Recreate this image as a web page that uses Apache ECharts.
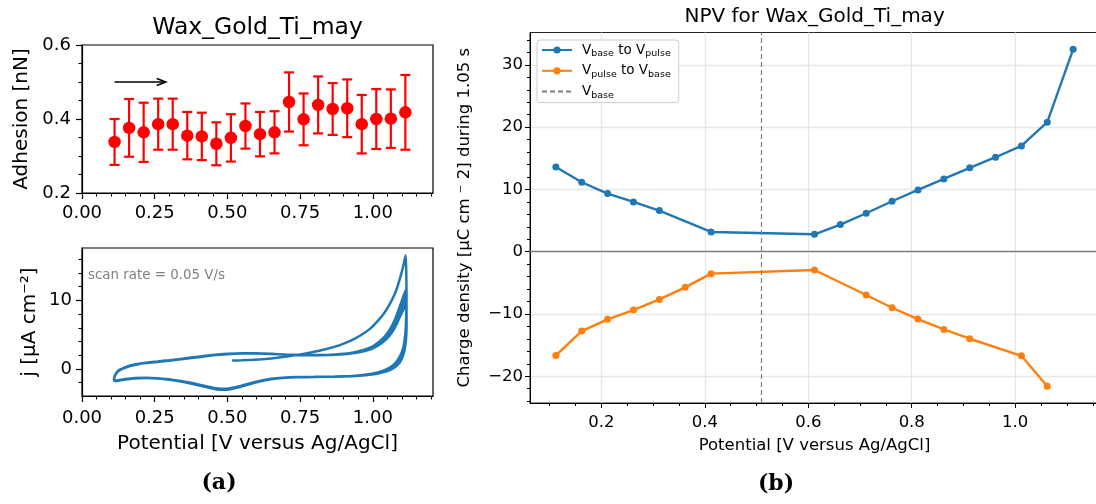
<!DOCTYPE html>
<html><head><meta charset="utf-8">
<script src="https://cdn.jsdelivr.net/npm/echarts@6/dist/echarts.min.js"></script>
<style>html,body{margin:0;padding:0;background:#fff}#c{width:1096px;height:504px}</style>
</head><body><div id="c"></div>
<script>
// ---------------- data ----------------
const adhX = [0.112,0.162,0.212,0.262,0.312,0.362,0.412,0.462,0.512,0.562,0.612,0.662,0.712,0.762,0.812,0.862,0.912,0.962,1.012,1.062,1.112];
const adhMean = [0.338,0.376,0.364,0.386,0.386,0.355,0.353,0.333,0.349,0.381,0.359,0.364,0.446,0.399,0.438,0.427,0.429,0.386,0.400,0.401,0.418];
const adhErr = [0.062,0.078,0.080,0.069,0.069,0.064,0.064,0.058,0.064,0.061,0.060,0.057,0.080,0.070,0.077,0.070,0.078,0.079,0.081,0.079,0.101];
const arrowFrom = [0.112, 0.5];
const arrowTo = [0.288, 0.5];

const cvScan1 = [[0.516,1.22],[0.55,1.25],[0.59,1.33],[0.63,1.45],[0.67,1.62],[0.71,1.85],[0.75,2.12],[0.79,2.43],[0.83,2.8],[0.87,3.25],[0.90,3.7],[0.93,4.25],[0.96,4.95],[0.99,5.85],[1.015,6.9],[1.04,8.2],[1.06,9.6],[1.078,11.2],[1.092,13.0],[1.104,14.9],[1.113,16.6],
[1.115,14.2],[1.116,11.0],[1.115,7.8],[1.112,5.2],[1.105,3.2],[1.093,1.8],[1.075,0.75],[1.05,0.0],[1.02,-0.48],[0.98,-0.82],[0.93,-1.02],[0.87,-1.12],[0.80,-1.17],[0.74,-1.2],[0.69,-1.28],[0.65,-1.45],[0.61,-1.75],[0.57,-2.18],[0.535,-2.6],[0.505,-2.85],[0.48,-2.9],[0.455,-2.78],[0.43,-2.55],[0.40,-2.25],[0.37,-1.98],[0.34,-1.75],[0.30,-1.52],[0.26,-1.35],[0.22,-1.27],[0.18,-1.33],[0.15,-1.48],[0.125,-1.65],[0.112,-1.72]];
const cvScan2 = [[0.110,-1.5],[0.113,-1.05],[0.12,-0.55],[0.13,-0.2],[0.145,0.12],[0.165,0.42],[0.19,0.66],[0.22,0.85],[0.26,1.02],[0.30,1.2],[0.35,1.45],[0.40,1.72],[0.45,1.98],[0.50,2.16],[0.55,2.26],[0.60,2.27],[0.65,2.2],[0.70,2.1],[0.75,2.04],[0.80,2.03],[0.85,2.07],[0.89,2.17],[0.93,2.38],[0.965,2.72],[0.995,3.2],[1.02,3.9],[1.043,4.85],[1.062,6.0],[1.078,7.4],[1.092,9.0],[1.105,10.6],[1.114,11.6],
[1.116,9.6],[1.116,7.2],[1.114,5.0],[1.109,3.2],[1.1,1.9],[1.087,0.95],[1.068,0.25],[1.045,-0.25],[1.015,-0.6],[0.975,-0.86],[0.93,-1.02],[0.87,-1.1],[0.80,-1.15],[0.74,-1.18],[0.69,-1.27],[0.65,-1.44],[0.61,-1.76],[0.57,-2.2],[0.535,-2.62],[0.505,-2.9],[0.48,-2.95],[0.455,-2.83],[0.43,-2.6],[0.40,-2.3],[0.37,-2.02],[0.34,-1.78],[0.30,-1.55],[0.26,-1.37],[0.22,-1.29],[0.18,-1.35],[0.15,-1.5],[0.125,-1.67],[0.112,-1.74]];
const cvScan3 = [[0.110,-1.45],[0.113,-1.0],[0.12,-0.5],[0.13,-0.15],[0.145,0.16],[0.165,0.46],[0.19,0.7],[0.22,0.88],[0.26,1.05],[0.30,1.23],[0.35,1.48],[0.40,1.75],[0.45,2.0],[0.50,2.18],[0.55,2.28],[0.60,2.28],[0.65,2.2],[0.70,2.1],[0.75,2.03],[0.80,2.01],[0.85,2.05],[0.89,2.14],[0.93,2.33],[0.965,2.64],[0.995,3.08],[1.02,3.72],[1.043,4.6],[1.062,5.7],[1.078,7.0],[1.092,8.5],[1.105,9.9],[1.114,10.8],
[1.116,9.0],[1.116,6.8],[1.114,4.7],[1.109,3.0],[1.1,1.75],[1.087,0.85],[1.068,0.18],[1.045,-0.3],[1.015,-0.64],[0.975,-0.88],[0.93,-1.03],[0.87,-1.11],[0.80,-1.16],[0.74,-1.2],[0.69,-1.3],[0.65,-1.48],[0.61,-1.8],[0.57,-2.24],[0.535,-2.66],[0.505,-2.95],[0.48,-3.0],[0.455,-2.88],[0.43,-2.64],[0.40,-2.34],[0.37,-2.05],[0.34,-1.8],[0.30,-1.56],[0.26,-1.38],[0.22,-1.3],[0.18,-1.36],[0.15,-1.52],[0.125,-1.69],[0.112,-1.76]];
const cvScan4 = [[0.110,-1.45],[0.113,-0.98],[0.12,-0.48],[0.13,-0.12],[0.145,0.18],[0.165,0.48],[0.19,0.72],[0.22,0.9],[0.26,1.07],[0.30,1.25],[0.35,1.5],[0.40,1.77],[0.45,2.02],[0.50,2.2],[0.55,2.29],[0.60,2.28],[0.65,2.19],[0.70,2.09],[0.75,2.02],[0.80,2.0],[0.85,2.03],[0.89,2.12],[0.93,2.3],[0.965,2.58],[0.995,2.98],[1.02,3.56],[1.043,4.38],[1.062,5.4],[1.078,6.6],[1.092,8.0],[1.105,9.2],[1.114,10.0],
[1.116,8.4],[1.116,6.4],[1.114,4.5],[1.109,2.85],[1.1,1.62],[1.087,0.75],[1.068,0.1],[1.045,-0.36],[1.015,-0.68],[0.975,-0.9],[0.93,-1.04],[0.87,-1.12],[0.80,-1.17],[0.74,-1.21],[0.69,-1.32],[0.65,-1.5],[0.61,-1.83],[0.57,-2.27],[0.535,-2.7],[0.505,-2.98],[0.48,-3.03],[0.455,-2.9],[0.43,-2.66],[0.40,-2.36],[0.37,-2.07],[0.34,-1.82],[0.30,-1.57],[0.26,-1.39],[0.22,-1.31],[0.18,-1.37],[0.15,-1.53],[0.125,-1.7],[0.112,-1.77]];
const cvScan5 = [[0.110,-1.45],[0.113,-0.96],[0.12,-0.46],[0.13,-0.1],[0.145,0.2],[0.165,0.5],[0.19,0.74],[0.22,0.92],[0.26,1.09],[0.30,1.27],[0.35,1.52],[0.40,1.79],[0.45,2.04],[0.50,2.21],[0.55,2.3],[0.60,2.28],[0.65,2.18],[0.70,2.08],[0.75,2.01],[0.80,1.99],[0.85,2.02],[0.89,2.1],[0.93,2.27],[0.965,2.53],[0.995,2.9],[1.02,3.45],[1.043,4.2],[1.062,5.1],[1.078,6.2],[1.092,7.5],[1.105,8.6],[1.114,9.2],
[1.116,7.8],[1.116,6.0],[1.114,4.2],[1.109,2.7],[1.1,1.5],[1.087,0.65],[1.068,0.03],[1.045,-0.4],[1.015,-0.7],[0.975,-0.92],[0.93,-1.05],[0.87,-1.13],[0.80,-1.18],[0.74,-1.22],[0.69,-1.33],[0.65,-1.52],[0.61,-1.85],[0.57,-2.3],[0.535,-2.72],[0.505,-3.0],[0.48,-3.05],[0.455,-2.92],[0.43,-2.68],[0.40,-2.38],[0.37,-2.08],[0.34,-1.83],[0.30,-1.58],[0.26,-1.4],[0.22,-1.32],[0.18,-1.38],[0.15,-1.54],[0.125,-1.71],[0.112,-1.78]];

const npvX1 = [0.112,0.162,0.212,0.262,0.312,0.412,0.612,0.662,0.712,0.762,0.812,0.862,0.912,0.962,1.012,1.062,1.112];
const npvBaseToPulse = [13.6,11.15,9.33,7.99,6.6,3.17,2.79,4.35,6.17,8.1,9.92,11.69,13.46,15.17,16.99,20.8,32.5];
const npvX2 = [0.112,0.162,0.212,0.262,0.312,0.362,0.412,0.612,0.712,0.762,0.812,0.862,0.912,1.012,1.062];
const npvPulseToBase = [-16.66,-12.75,-10.87,-9.37,-7.66,-5.73,-3.53,-2.94,-6.96,-9.0,-10.82,-12.48,-13.98,-16.72,-21.6];
const vBase = 0.512;

// tick values
const leftXTicks = [0, 0.25, 0.5, 0.75, 1.0];
const leftXMinor = [0.05,0.1,0.15,0.2,0.3,0.35,0.4,0.45,0.55,0.6,0.65,0.7,0.8,0.85,0.9,0.95,1.05,1.1,1.15,1.2];
const adhYTicks = [0.2, 0.4, 0.6];
const adhYMinor = [0.25,0.3,0.35,0.45,0.5,0.55];
const cvYTicks = [0, 10];
const cvYMinor = [-2,2,4,6,8,12,14,16];
const npvXTicks = [0.2, 0.4, 0.6, 0.8, 1.0];
const npvXMinor = [0.1,0.15,0.25,0.3,0.35,0.45,0.5,0.55,0.65,0.7,0.75,0.85,0.9,0.95,1.05,1.1,1.15];
const npvYTicks = [-20,-10,0,10,20,30];
const npvYMinor = [-24,-22,-18,-16,-14,-12,-8,-6,-4,-2,2,4,6,8,12,14,16,18,22,24,26,28,32,34];

// ---------------- chart ----------------
const FONT = 'DejaVu Sans';
const BLUE = '#1f77b4', ORANGE = '#ff7f0e';
const chart = echarts.init(document.getElementById('c'), null, {renderer: 'canvas'});

function majorAxis(o) {
  const a = {
    type: 'value', gridIndex: o.grid, min: o.min, max: o.max, position: o.pos,
    axisLine: {show: true, onZero: false, lineStyle: {color: '#000', width: o.lw || 1.2}},
    axisTick: {show: true, inside: false, length: o.tl, customValues: o.ticks, lineStyle: {color: '#000', width: o.lw || 1.2}},
    axisLabel: {show: true, customValues: o.ticks, formatter: o.fmt, fontSize: o.fs, color: '#000', fontFamily: FONT, margin: o.margin},
    splitLine: o.split ? {show: true, lineStyle: {color: '#e6e6e6', width: 1.3}} : {show: false},
    minorTick: {show: false}
  };
  if (o.name) {
    a.name = o.name; a.nameLocation = 'middle'; a.nameGap = o.nameGap;
    a.nameTextStyle = {fontSize: o.nfs, color: '#000', fontFamily: FONT};
  }
  return a;
}
function minorAxis(o) {
  return {
    type: 'value', gridIndex: o.grid, min: o.min, max: o.max, position: o.pos,
    axisLine: {show: false, onZero: false},
    axisTick: {show: true, inside: false, length: o.tl, customValues: o.ticks, lineStyle: {color: '#000', width: 1}},
    axisLabel: {show: false},
    splitLine: {show: false}
  };
}

const legendNames = {
  b2p: '{f|V}{s|base}{n| to V}{s|pulse}',
  p2b: '{f|V}{s|pulse}{n| to V}{s|base}',
  vb: '{f|V}{s|base}'
};

const option = {
  animation: false,
  backgroundColor: '#fff',
  grid: [
    {left: 82, top: 45, width: 351, height: 148, show: true, borderColor: '#000', borderWidth: 1.2, outerBoundsMode: 'none'},
    {left: 82, top: 248, width: 351, height: 148, show: true, borderColor: '#000', borderWidth: 1.2, outerBoundsMode: 'none'},
    {left: 530, top: 32.5, width: 569, height: 370.5, show: true, borderColor: '#222', borderWidth: 1, outerBoundsMode: 'none'}
  ],
  xAxis: [
    majorAxis({grid: 0, min: 0, max: 1.207, pos: 'bottom', tl: 6, ticks: leftXTicks, fmt: v => v.toFixed(2), fs: 18, margin: 11}),
    minorAxis({grid: 0, min: 0, max: 1.207, pos: 'bottom', tl: 3.5, ticks: leftXMinor}),
    majorAxis({grid: 1, min: 0, max: 1.207, pos: 'bottom', tl: 6, ticks: leftXTicks, fmt: v => v.toFixed(2), fs: 18, margin: 13,
      name: 'Potential [V versus Ag/AgCl]', nameGap: 38, nfs: 20}),
    minorAxis({grid: 1, min: 0, max: 1.207, pos: 'bottom', tl: 3.5, ticks: leftXMinor}),
    majorAxis({grid: 2, min: 0.062, max: 1.162, pos: 'bottom', tl: 5, lw: 1, ticks: npvXTicks, fmt: v => v.toFixed(1), fs: 16.5, margin: 11, split: true,
      name: 'Potential [V versus Ag/AgCl]', nameGap: 34, nfs: 16.5}),
    minorAxis({grid: 2, min: 0.062, max: 1.162, pos: 'bottom', tl: 3, ticks: npvXMinor})
  ],
  yAxis: [
    majorAxis({grid: 0, min: 0.2, max: 0.6, pos: 'left', tl: 6, ticks: adhYTicks, fmt: v => v.toFixed(1), fs: 18, margin: 11,
      name: 'Adhesion [nN]', nameGap: 50, nfs: 20}),
    minorAxis({grid: 0, min: 0.2, max: 0.6, pos: 'left', tl: 3.5, ticks: adhYMinor}),
    majorAxis({grid: 1, min: -3.95, max: 17.65, pos: 'left', tl: 6, ticks: cvYTicks, fmt: v => String(v), fs: 18, margin: 10,
      name: 'j [μA cm⁻²]', nameGap: 42, nfs: 20}),
    minorAxis({grid: 1, min: -3.95, max: 17.65, pos: 'left', tl: 3.5, ticks: cvYMinor}),
    majorAxis({grid: 2, min: -24.3, max: 35.2, pos: 'left', tl: 5, lw: 1, ticks: npvYTicks, fmt: v => v < 0 ? '\u2212' + Math.abs(v) : String(v), fs: 16.5, margin: 7, split: true,
      name: 'Charge density [μC cm \u207B 2] during 1.05 s', nameGap: 57, nfs: 16.5}),
    minorAxis({grid: 2, min: -24.3, max: 35.2, pos: 'left', tl: 3, ticks: npvYMinor})
  ],
  legend: {
    left: 537, top: 40, orient: 'vertical', selectedMode: false,
    padding: [3, 8, 2, 4], itemGap: 4.8, itemWidth: 30, itemHeight: 9,
    backgroundColor: '#fff', borderColor: '#cccccc', borderWidth: 1, borderRadius: 3,
    data: [{name: 'b2p'}, {name: 'p2b'}, {name: 'vb', itemStyle: {opacity: 0}}],
    formatter: name => legendNames[name],
    textStyle: {
      fontFamily: FONT, fontSize: 13.5, color: '#000',
      rich: {
        f: {fontFamily: FONT, fontSize: 13.5, lineHeight: 18, color: '#000', padding: [0, 0, 0, 5]},
        n: {fontFamily: FONT, fontSize: 13.5, lineHeight: 18, color: '#000'},
        s: {fontFamily: FONT, fontSize: 9.5, lineHeight: 10, color: '#000', verticalAlign: 'bottom'}
      }
    }
  },
  graphic: [
    {type: 'text', x: 257.5, y: 27.5, silent: true, style: {text: 'Wax_Gold_Ti_may', fontSize: 23.5, fontFamily: FONT, fill: '#000', align: 'center', verticalAlign: 'middle'}},
    {type: 'text', x: 814.6, y: 16.3, silent: true, style: {text: 'NPV for Wax_Gold_Ti_may', fontSize: 20, fontFamily: FONT, fill: '#000', align: 'center', verticalAlign: 'middle'}},
    {type: 'text', x: 88, y: 275.7, silent: true, style: {text: 'scan rate = 0.05 V/s', fontSize: 13.4, fontFamily: FONT, fill: '#808080', align: 'left', verticalAlign: 'middle'}},
    {type: 'text', x: 219, y: 483.5, silent: true, style: {text: '(a)', fontSize: 22, fontWeight: 'bold', fontFamily: 'DejaVu Serif', fill: '#000', align: 'center', verticalAlign: 'middle'}},
    {type: 'text', x: 776, y: 484, silent: true, style: {text: '(b)', fontSize: 22, fontWeight: 'bold', fontFamily: 'DejaVu Serif', fill: '#000', align: 'center', verticalAlign: 'middle'}}
  ],
  series: [
    {
      type: 'custom', name: 'err', xAxisIndex: 0, yAxisIndex: 0, z: 3,
      encode: {x: 0, y: [1, 2]},
      data: adhX.map((x, i) => [x, adhMean[i] - adhErr[i], adhMean[i] + adhErr[i]]),
      renderItem: function (params, api) {
        const x = api.value(0);
        const lo = api.coord([x, api.value(1)]);
        const hi = api.coord([x, api.value(2)]);
        const cap = 5;
        const st = {stroke: '#ff0000', lineWidth: 2.2};
        return {type: 'group', children: [
          {type: 'line', shape: {x1: lo[0], y1: lo[1], x2: hi[0], y2: hi[1]}, style: st},
          {type: 'line', shape: {x1: hi[0] - cap, y1: hi[1], x2: hi[0] + cap, y2: hi[1]}, style: st},
          {type: 'line', shape: {x1: lo[0] - cap, y1: lo[1], x2: lo[0] + cap, y2: lo[1]}, style: st}
        ]};
      }
    },
    {
      type: 'scatter', name: 'adh', xAxisIndex: 0, yAxisIndex: 0, z: 4,
      symbol: 'circle', symbolSize: 12.5, itemStyle: {color: '#ff0000', opacity: 1},
      data: adhX.map((x, i) => [x, adhMean[i]])
    },
    {
      type: 'custom', name: 'arrow', xAxisIndex: 0, yAxisIndex: 0, z: 5,
      encode: {x: [0, 2], y: [1, 3]},
      data: [[arrowFrom[0], arrowFrom[1], arrowTo[0], arrowTo[1]]],
      renderItem: function (params, api) {
        const a = api.coord([api.value(0), api.value(1)]);
        const b = api.coord([api.value(2), api.value(3)]);
        const st = {stroke: '#000', lineWidth: 1.6};
        return {type: 'group', children: [
          {type: 'line', shape: {x1: a[0], y1: a[1], x2: b[0], y2: b[1]}, style: st},
          {type: 'polyline', shape: {points: [[b[0] - 9, b[1] - 3.6], [b[0], b[1]], [b[0] - 9, b[1] + 3.6]]}, style: {stroke: '#000', lineWidth: 1.6, fill: null}}
        ]};
      }
    },
    {
      type: 'line', name: 'cv', xAxisIndex: 2, yAxisIndex: 2,
      data: [].concat(cvScan1, cvScan2, cvScan3, cvScan4, cvScan5),
      showSymbol: false, symbol: 'none', smooth: 0.15,
      lineStyle: {color: BLUE, width: 2.5}, itemStyle: {color: BLUE}
    },
    {
      type: 'line', name: 'zero', xAxisIndex: 4, yAxisIndex: 4, data: [], z: 1,
      markLine: {silent: true, symbol: ['none', 'none'], label: {show: false},
        lineStyle: {color: '#808080', width: 1.3, type: 'solid'}, data: [{yAxis: 0}]}
    },
    {
      type: 'line', name: 'vb', xAxisIndex: 4, yAxisIndex: 4, data: [], symbol: 'none', z: 2,
      lineStyle: {color: '#808080', width: 1.2, type: [5, 3]}, itemStyle: {color: '#808080'},
      markLine: {silent: true, symbol: ['none', 'none'], label: {show: false},
        lineStyle: {color: '#808080', width: 1.2, type: [5, 3]}, data: [{xAxis: vBase}]}
    },
    {
      type: 'line', name: 'b2p', xAxisIndex: 4, yAxisIndex: 4, z: 3,
      data: npvX1.map((x, i) => [x, npvBaseToPulse[i]]),
      symbol: 'circle', symbolSize: 7, showSymbol: true,
      lineStyle: {color: BLUE, width: 2.4}, itemStyle: {color: BLUE}
    },
    {
      type: 'line', name: 'p2b', xAxisIndex: 4, yAxisIndex: 4, z: 3,
      data: npvX2.map((x, i) => [x, npvPulseToBase[i]]),
      symbol: 'circle', symbolSize: 7, showSymbol: true,
      lineStyle: {color: ORANGE, width: 2.4}, itemStyle: {color: ORANGE}
    }
  ]
};
chart.setOption(option);
</script>
</body></html>
